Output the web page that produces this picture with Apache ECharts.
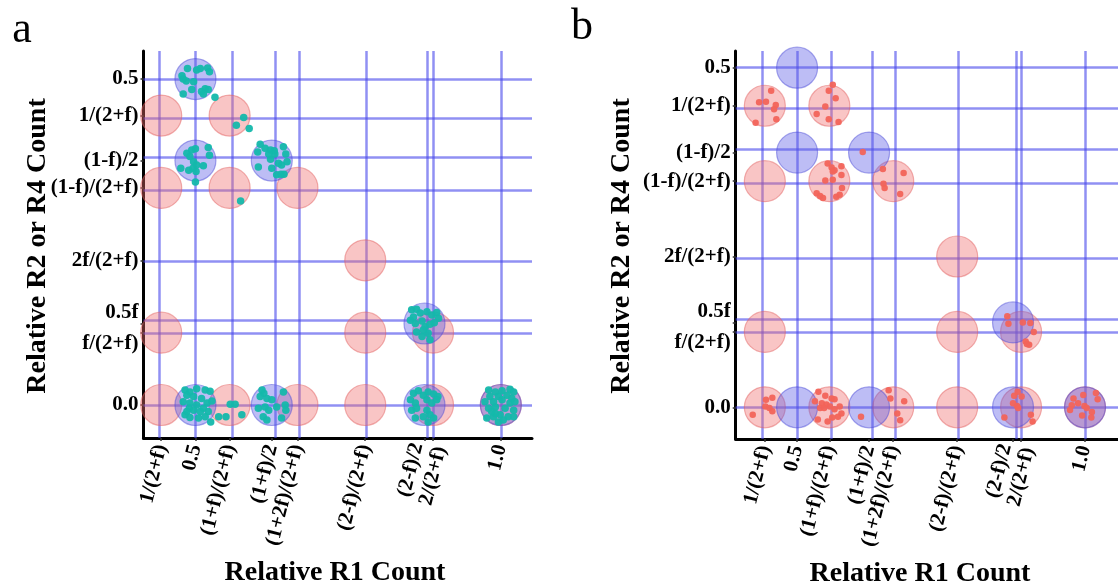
<!DOCTYPE html>
<html>
<head>
<meta charset="utf-8">
<script src="https://cdn.jsdelivr.net/npm/echarts@6/dist/echarts.min.js"></script>
<style>
  html,body{margin:0;padding:0;background:#fff;}
  #main{width:1118px;height:586px;}
</style>
</head>
<body>
<div id="main"></div>
<script>
// tick positions (f = 0.25) and their labels
var xTickValues = [0.444, 0.5, 0.556, 0.625, 0.667, 0.778, 0.875, 0.889, 1.0];
var xTickLabels = ['1/(2+f)', '0.5', '(1+f)/(2+f)', '(1+f)/2', '(1+2f)/(2+f)', '(2-f)/(2+f)', '(2-f)/2', '2/(2+f)', '1.0'];
var yTickValues = [0.5, 0.444, 0.375, 0.333, 0.222, 0.125, 0.111, 0.0];
var yTickLabels = ['0.5', '1/(2+f)', '(1-f)/2', '(1-f)/(2+f)', '2f/(2+f)', '0.5f', 'f/(2+f)', '0.0'];

// expected genotype positions
var pinkCircles = [
  [0.444, 0.444], [0.556, 0.444], [0.444, 0.333], [0.556, 0.333], [0.667, 0.333],
  [0.778, 0.222], [0.444, 0.111], [0.778, 0.111], [0.889, 0.111],
  [0.444, 0], [0.556, 0], [0.667, 0], [0.778, 0], [0.889, 0], [1.0, 0]
];
var blueCircles = [
  [0.5, 0.5], [0.5, 0.375], [0.625, 0.375], [0.875, 0.125],
  [0.5, 0], [0.625, 0], [0.875, 0], [1.0, 0]
];

// panel a observed samples
var dotsA = [
  [0.487,0.516],[0.502,0.514],[0.508,0.516],[0.520,0.517],[0.523,0.511],[0.478,0.505],[0.480,0.500],
  [0.485,0.497],[0.494,0.484],[0.480,0.477],[0.510,0.481],[0.516,0.485],[0.521,0.484],[0.513,0.477],
  [0.532,0.472],[0.497,0.496],
  [0.579,0.441],[0.567,0.429],[0.588,0.424],
  [0.486,0.386],[0.494,0.391],[0.500,0.393],[0.521,0.395],[0.523,0.383],[0.491,0.381],[0.497,0.373],
  [0.476,0.363],[0.489,0.360],[0.496,0.363],[0.501,0.358],[0.502,0.368],[0.513,0.367],[0.500,0.342],
  [0.606,0.400],[0.614,0.394],[0.623,0.391],[0.629,0.390],[0.630,0.385],[0.644,0.396],[0.648,0.385],
  [0.602,0.388],[0.603,0.365],[0.623,0.377],[0.625,0.363],[0.636,0.371],[0.641,0.368],[0.650,0.373],
  [0.633,0.353],[0.640,0.354],[0.645,0.354],[0.620,0.385],
  [0.574,0.313],
  [0.854,0.146],[0.862,0.147],[0.868,0.141],[0.879,0.143],[0.887,0.138],[0.895,0.142],[0.898,0.133],
  [0.852,0.130],[0.860,0.125],[0.871,0.129],[0.876,0.120],[0.884,0.124],[0.891,0.126],[0.862,0.112],
  [0.871,0.105],[0.881,0.110],[0.884,0.100],[0.873,0.115],[0.857,0.135],
  [0.483,0.023],[0.491,0.020],[0.502,0.025],[0.516,0.023],[0.524,0.021],[0.486,0.015],[0.497,0.013],
  [0.510,0.010],[0.480,0.005],[0.491,0.003],[0.502,0.000],[0.519,0.003],[0.527,0.006],[0.490,-0.005],
  [0.497,-0.008],[0.513,-0.005],[0.521,-0.010],[0.483,-0.015],[0.491,-0.019],[0.505,-0.020],
  [0.516,-0.018],[0.525,-0.026],[0.486,-0.010],[0.508,-0.010],
  [0.538,-0.018],[0.550,-0.018],[0.557,0.001],[0.565,0.001],[0.576,-0.015],
  [0.609,0.023],[0.612,0.018],[0.606,0.013],[0.617,0.010],[0.625,0.008],[0.603,-0.005],[0.614,-0.003],
  [0.620,-0.008],[0.633,-0.003],[0.644,0.020],[0.647,0.000],[0.648,-0.008],[0.641,-0.020],
  [0.611,-0.018],[0.617,-0.023],
  [0.857,0.018],[0.865,0.022],[0.873,0.015],[0.881,0.020],[0.890,0.017],[0.897,0.013],[0.852,0.008],
  [0.860,0.003],[0.879,0.008],[0.887,0.003],[0.895,0.008],[0.854,-0.008],[0.862,-0.005],[0.879,-0.008],
  [0.884,-0.015],[0.860,-0.020],[0.873,-0.018],[0.890,-0.020],[0.881,-0.026],
  [0.980,0.023],[0.991,0.020],[1.002,0.022],[1.015,0.024],[1.021,0.020],[0.982,0.013],[0.996,0.013],
  [1.010,0.015],[1.018,0.010],[0.974,0.005],[0.988,0.005],[1.002,0.008],[1.015,0.003],[1.023,0.005],
  [0.980,-0.005],[0.991,-0.003],[1.007,-0.005],[1.021,-0.008],[0.977,-0.020],[0.988,-0.018],
  [0.999,-0.015],[1.012,-0.018],[1.021,-0.018],[0.996,-0.026],[1.004,-0.023],[0.991,-0.013],[0.985,-0.010]
];

// panel b observed samples
var dotsB = [
  [0.455,0.466],[0.434,0.449],[0.446,0.450],[0.463,0.445],[0.460,0.439],[0.464,0.424],[0.428,0.419],
  [0.562,0.475],[0.555,0.466],[0.567,0.455],[0.549,0.443],[0.534,0.432],[0.555,0.424],[0.572,0.420],
  [0.614,0.376],
  [0.553,0.359],[0.560,0.353],[0.565,0.349],[0.577,0.355],[0.562,0.347],[0.577,0.342],[0.549,0.334],
  [0.562,0.335],[0.578,0.323],[0.534,0.315],[0.540,0.311],[0.545,0.308],[0.568,0.310],[0.574,0.313],
  [0.649,0.351],[0.685,0.345],[0.650,0.329],[0.652,0.323],[0.679,0.314],
  [0.865,0.134],[0.867,0.123],[0.892,0.125],[0.905,0.124],[0.911,0.111],[0.897,0.097],[0.903,0.092],[0.899,0.093],
  [0.457,0.014],[0.446,0.011],[0.445,0.001],[0.452,-0.001],[0.457,-0.006],[0.423,-0.011],
  [0.537,0.023],[0.549,0.017],[0.560,0.013],[0.565,0.012],[0.531,0.009],[0.543,0.006],[0.551,0.004],
  [0.557,0.001],[0.540,-0.001],[0.547,-0.001],[0.565,-0.003],[0.574,0.001],[0.577,-0.009],[0.571,-0.014],
  [0.561,-0.015],[0.553,-0.021],[0.536,-0.018],
  [0.611,-0.014],
  [0.659,0.025],[0.662,0.013],[0.686,0.009],[0.674,-0.009],[0.679,-0.019],
  [0.883,0.023],[0.877,0.017],[0.890,0.016],[0.875,0.006],[0.882,0.002],[0.884,-0.001],[0.860,-0.015],
  [0.906,-0.011],[0.909,-0.021],
  [0.980,0.013],[0.997,0.018],[1.019,0.021],[1.022,0.012],[0.977,0.003],[0.988,0.006],[0.999,0.002],
  [1.003,-0.001],[0.974,-0.004],[1.012,-0.007],[0.995,-0.012],[1.011,-0.015]
];

var serif = '"Liberation Serif", "Times New Roman", serif';
var lineColor = 'rgba(70,70,235,0.6)';

function findLabel(values, labels, v) {
  for (var i = 0; i < values.length; i++) {
    if (Math.abs(values[i] - v) < 1e-6) return labels[i];
  }
  return '';
}

function makeX(idx, min, max) {
  return {
    type: 'value', gridIndex: idx, min: min, max: max,
    splitLine: {show: false},
    axisLine: {onZero: false, lineStyle: {color: '#000', width: 3}},
    axisTick: {customValues: xTickValues, length: 3, lineStyle: {color: '#333', width: 1.5}},
    axisLabel: {
      customValues: xTickValues, rotate: 76, margin: 7, lineHeight: 15,
      fontFamily: serif, fontWeight: 'bold', fontSize: 21, color: '#000',
      formatter: function (v) {
        var t = findLabel(xTickValues, xTickLabels, v);
        // the two close ticks are pushed apart
        if (t === '(2-f)/2') return t + '\n ';
        if (t === '2/(2+f)') return ' \n' + t;
        return t;
      }
    }
  };
}

function makeY(idx, min, max) {
  return {
    type: 'value', gridIndex: idx, min: min, max: max,
    splitLine: {show: false},
    axisLine: {onZero: false, lineStyle: {color: '#000', width: 3}},
    axisTick: {customValues: yTickValues, length: 3, lineStyle: {color: '#333', width: 1.5}},
    axisLabel: {
      customValues: yTickValues, margin: 5, lineHeight: 22,
      fontFamily: serif, fontWeight: 'bold', fontSize: 21, color: '#000',
      formatter: function (v) {
        var t = findLabel(yTickValues, yTickLabels, v);
        if (t === '0.5f') return t + '\n ';
        if (t === 'f/(2+f)') return ' \n' + t;
        return t;
      }
    }
  };
}

function gridLines() {
  var d = [];
  xTickValues.forEach(function (v) { d.push({xAxis: v}); });
  yTickValues.forEach(function (v) { d.push({yAxis: v}); });
  return d;
}

function panelSeries(idx, dots, dotColor, dotSize) {
  return [
    {
      type: 'scatter', xAxisIndex: idx, yAxisIndex: idx, z: 3,
      data: pinkCircles, symbolSize: 41, silent: true,
      itemStyle: {color: 'rgba(240,110,110,0.5)', borderColor: 'rgba(225,95,95,0.6)', borderWidth: 1.2},
      markLine: {
        z: 1, silent: true, symbol: ['none', 'none'], label: {show: false},
        lineStyle: {color: lineColor, width: 2.5, type: 'solid'},
        data: gridLines()
      }
    },
    {
      type: 'scatter', xAxisIndex: idx, yAxisIndex: idx, z: 4,
      data: blueCircles, symbolSize: 41, silent: true,
      itemStyle: {color: 'rgba(90,90,230,0.5)', borderColor: 'rgba(75,75,215,0.6)', borderWidth: 1.2}
    },
    {
      type: 'scatter', xAxisIndex: idx, yAxisIndex: idx, z: 5,
      data: dots, symbolSize: dotSize, silent: true,
      itemStyle: {color: dotColor, opacity: 0.95}
    }
  ];
}

var chart = echarts.init(document.getElementById('main'));
chart.setOption({
  animation: false,
  backgroundColor: '#fff',
  grid: [
    {left: 143.5, top: 51, width: 388.5, height: 387},
    {left: 735.7, top: 51, width: 390, height: 388}
  ],
  xAxis: [makeX(0, 0.415, 1.051), makeX(1, 0.3934, 1.0573)],
  yAxis: [makeY(0, -0.0506, 0.543), makeY(1, -0.0467, 0.5246)],
  series: panelSeries(0, dotsA, '#14b8ab', 7.5).concat(panelSeries(1, dotsB, '#f2645a', 6.5)),
  graphic: [
    {type: 'text', x: 22, y: 30, style: {text: 'a', font: '44px ' + serif, fill: '#000', textAlign: 'center', textVerticalAlign: 'middle'}},
    {type: 'text', x: 582, y: 27, style: {text: 'b', font: '44px ' + serif, fill: '#000', textAlign: 'center', textVerticalAlign: 'middle'}},
    {type: 'text', x: 38, y: 246, rotation: Math.PI / 2,
      style: {text: 'Relative R2 or R4 Count', font: 'bold 28px ' + serif, fill: '#000', textAlign: 'center', textVerticalAlign: 'middle'}},
    {type: 'text', x: 622, y: 246, rotation: Math.PI / 2,
      style: {text: 'Relative R2 or R4 Count', font: 'bold 28px ' + serif, fill: '#000', textAlign: 'center', textVerticalAlign: 'middle'}},
    {type: 'text', x: 335, y: 573, style: {text: 'Relative R1 Count', font: 'bold 28px ' + serif, fill: '#000', textAlign: 'center', textVerticalAlign: 'middle'}},
    {type: 'text', x: 920, y: 574, style: {text: 'Relative R1 Count', font: 'bold 28px ' + serif, fill: '#000', textAlign: 'center', textVerticalAlign: 'middle'}}
  ]
});
</script>
</body>
</html>
